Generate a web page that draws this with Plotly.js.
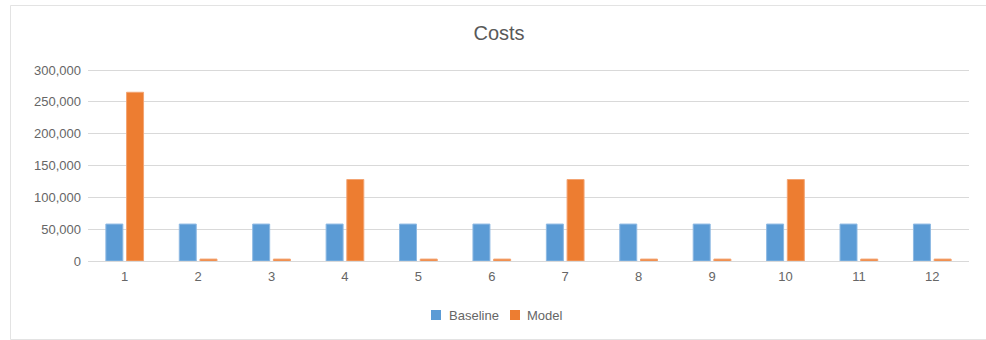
<!DOCTYPE html>
<html>
<head>
<meta charset="utf-8">
<script src="https://cdn.plot.ly/plotly-3.0.1.min.js"></script>
<style>
  html, body { margin: 0; padding: 0; background: #fff; }
  #chart { width: 986px; height: 340px; }
</style>
</head>
<body>
<div id="chart"></div>
<script>
// Period labels along the category axis
const periods = ['1', '2', '3', '4', '5', '6', '7', '8', '9', '10', '11', '12'];

// Cost per period for each scenario
const baselineCosts = [58000, 58000, 58000, 58000, 58000, 58000, 58000, 58000, 58000, 58000, 58000, 58000];
const modelCosts = [265000, 3000, 3000, 128000, 3000, 3000, 128000, 3000, 3000, 128000, 3000, 3000];

const seriesNames = ['Baseline', 'Model'];
const seriesColors = ['#5B9BD5', '#ED7D31'];
const seriesEdges = ['#8db9e3', '#f3a473'];

const W = 986, H = 340;
// a little headroom above the top gridline so it is not clipped at the edge
const M = { l: 88, r: 17, t: 67, b: 79 };
const PW = W - M.l - M.r, PH = H - M.t - M.b;
const yMax = 300000 * PH / 191;
// pixel -> paper helpers for the decoration overlay
const px = x => (x - M.l) / PW;
const py = y => (H - M.b - y) / PH;

const traces = [baselineCosts, modelCosts].map((vals, i) => ({
  type: 'bar',
  name: seriesNames[i],
  x: periods,
  y: vals,
  marker: { color: seriesColors[i], line: { color: seriesEdges[i], width: 1 } },
  hoverinfo: 'x+y+name'
}));

// Hand-built legend: small squares with labels below the plot
const legendItems = [
  { sx: 431, tx: 447 },
  { sx: 510, tx: 525 }
];
const shapes = [
  {
    type: 'rect', xref: 'paper', yref: 'paper',
    x0: px(10.5), x1: px(987), y0: py(339.5), y1: py(5.5),
    line: { color: '#e3e3e3', width: 1 }, fillcolor: 'rgba(0,0,0,0)', layer: 'below'
  }
];
const annotations = [];
legendItems.forEach((it, i) => {
  shapes.push({
    type: 'rect', xref: 'paper', yref: 'paper',
    x0: px(it.sx), x1: px(it.sx + 10), y0: py(320), y1: py(310),
    line: { width: 0 }, fillcolor: seriesColors[i]
  });
  annotations.push({
    xref: 'paper', yref: 'paper', x: px(it.tx), y: py(315.5),
    xanchor: 'left', yanchor: 'middle', showarrow: false,
    text: seriesNames[i],
    font: { family: 'Liberation Sans, Arial, sans-serif', size: 13, color: '#666666' }
  });
});

const layout = {
  width: W, height: H,
  margin: M,
  paper_bgcolor: '#fff',
  plot_bgcolor: '#fff',
  font: { family: 'Liberation Sans, Arial, sans-serif', size: 13, color: '#666666' },
  title: {
    text: 'Costs',
    font: { family: 'Liberation Sans, Arial, sans-serif', size: 20, color: '#595959' },
    xref: 'container', x: 499 / W, xanchor: 'center',
    yref: 'container', y: 1 - 33 / H, yanchor: 'middle'
  },
  showlegend: false,
  barmode: 'group',
  bargap: 0.436,
  bargroupgap: 0.18,
  xaxis: {
    type: 'category',
    showgrid: false, showline: false, zeroline: false,
    ticks: '', ticklabelstandoff: 6,
    tickfont: { size: 13, color: '#666666' }
  },
  yaxis: {
    range: [0, yMax], dtick: 50000, tick0: 0,
    tickformat: ',',
    showgrid: true, gridcolor: '#d9d9d9', gridwidth: 1,
    zeroline: true, zerolinecolor: '#d9d9d9', zerolinewidth: 1,
    showline: false, ticks: '', ticklabelstandoff: 6,
    tickfont: { size: 13, color: '#666666' }
  },
  shapes: shapes,
  annotations: annotations
};

Plotly.newPlot('chart', traces, layout, { displayModeBar: false, staticPlot: true });
</script>
</body>
</html>
